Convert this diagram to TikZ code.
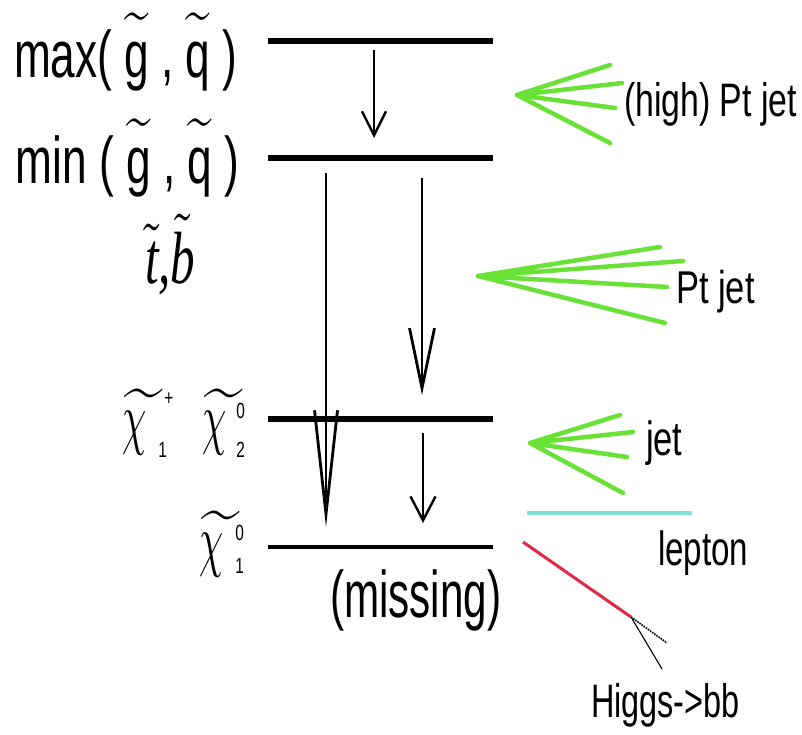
\documentclass[tikz,border=0pt]{standalone}
\usepackage{fontspec}
\setmainfont{Liberation Sans}
\newfontfamily\serifit{Liberation Serif}
\usepackage{graphicx}
\usetikzlibrary{arrows.meta}
\definecolor{jetgreen}{RGB}{105,225,55}
\definecolor{lepcyan}{RGB}{125,225,220}
\definecolor{higgsred}{RGB}{225,40,70}
\newcommand{\sqz}[2]{\scalebox{#1}[1]{#2}}
\newcommand{\sqzz}[3]{\scalebox{#1}[#2]{\fontsize{10}{12}\selectfont #3}}
\newcommand{\scr}[1]{{\fontsize{22}{24}\selectfont\sqz{0.7}{#1}}}
\newcommand{\chibig}{\sqzz{3.85}{7}{$\widetilde{\chi\mkern9mu}$}}
\tikzset{
  level/.style={line width=6pt},
  lowlevel/.style={line width=4pt},
  jet/.style={jetgreen, line width=4.5pt, line cap=round},
  lbl/.style={anchor=base west, inner sep=0pt, outer sep=0pt},
  decay/.style={line width=2pt},
}
\begin{document}
\begin{tikzpicture}[x=1pt,y=-1pt]
\fill[white] (0,0) rectangle (802,735);
\useasboundingbox (0,0) rectangle (802,735);
% level lines
\coordinate (L1a) at (268,41);  \coordinate (L1b) at (493,41);
\coordinate (L2a) at (268,158); \coordinate (L2b) at (493,158);
\coordinate (L3a) at (268,419); \coordinate (L3b) at (493,419);
\coordinate (L4a) at (268,547); \coordinate (L4b) at (493,547);
\draw[level] (L1a) -- (L1b);
\draw[level] (L2a) -- (L2b);
\draw[level] (L3a) -- (L3b);
\draw[lowlevel] (L4a) -- (L4b);
% decay arrows
\coordinate (A1s) at (374,50);  \coordinate (A1e) at (374,138);
\coordinate (A2s) at (326,173); \coordinate (A2e) at (326,527);
\coordinate (A3s) at (422,178); \coordinate (A3e) at (422,395);
\coordinate (A4s) at (423,433); \coordinate (A4e) at (423,523);
\draw[decay,-{Straight Barb[length=24pt,width=24pt,line width=2.4pt]}] (A1s) -- (A1e);
\draw[decay,-{Straight Barb[length=104pt,width=23pt,line width=2.8pt]}] (A2s) -- (A2e);
\draw[decay,-{Straight Barb[length=60pt,width=25pt,line width=2.8pt]}] (A3s) -- (A3e);
\draw[decay,-{Straight Barb[length=24pt,width=25pt,line width=2.4pt]}] (A4s) -- (A4e);
% left labels
\node[lbl] (maxl) at (14,78)
  {\sqzz{4.42}{6.6}{max( $\widetilde{\mbox{g}\vphantom{h}}$ , $\widetilde{\mbox{q}\vphantom{h}}$ )}};
\node[lbl] (minl) at (16,184)
  {\sqzz{4.42}{6.6}{min ( $\widetilde{\mbox{g}\vphantom{h}}$ , $\widetilde{\mbox{q}\vphantom{h}}$ )}};
\node[lbl] (tbl) at (145,283)
  {\sqzz{4.9}{7.4}{\serifit\itshape $\tilde{\mbox{t}}$,$\tilde{\mbox{b}}$}};
\node[lbl] (chiA) at (122,441)
  {\chibig\kern-7pt\rlap{\kern6pt\raisebox{36pt}{\scr{+}}}\raisebox{-16pt}{\scr{1}}};
\node[lbl] (chiB) at (202,441)
  {\chibig\kern-9pt\rlap{\raisebox{23pt}{\scr{0}}}\raisebox{-16pt}{\scr{2}}};
\node[lbl] (chiC) at (199,563)
  {\chibig\kern-7pt\rlap{\raisebox{23pt}{\scr{0}}}\raisebox{-10pt}{\scr{1}}};
\node[lbl,font=\fontsize{66}{70}\selectfont] (miss) at (330,617) {\sqz{0.64}{(missing)}};
% jets
\coordinate (J1) at (517,95);
\coordinate (J1a) at (610,65); \coordinate (J1b) at (622,83);
\coordinate (J1c) at (615,108); \coordinate (J1d) at (610,143);
\draw[jet] (J1) -- (J1a) (J1) -- (J1b) (J1) -- (J1c) (J1) -- (J1d);
\coordinate (J2) at (478,276);
\coordinate (J2a) at (660,247); \coordinate (J2b) at (683,261);
\coordinate (J2c) at (667,287); \coordinate (J2d) at (665,323);
\draw[jet] (J2) -- (J2a) (J2) -- (J2b) (J2) -- (J2c) (J2) -- (J2d);
\coordinate (J3) at (530,443);
\coordinate (J3a) at (620,415); \coordinate (J3b) at (633,432);
\coordinate (J3c) at (627,457); \coordinate (J3d) at (623,493);
\draw[jet] (J3) -- (J3a) (J3) -- (J3b) (J3) -- (J3c) (J3) -- (J3d);
% lepton
\coordinate (Ls) at (527,513); \coordinate (Le) at (692,513);
\draw[lepcyan, line width=4pt] (Ls) -- (Le);
% higgs
\coordinate (H0) at (523,542); \coordinate (H1) at (631,617);
\coordinate (H2) at (667,643); \coordinate (H3) at (662,669);
\draw[higgsred, line width=3pt] (H0) -- (H1);
\draw[densely dotted, line width=1.6pt] (H1) -- (H2);
\draw[line width=1.1pt] (H1) -- (H3);
% right labels
\node[lbl,font=\fontsize{47}{50}\selectfont] (t1) at (624,117) {\sqz{0.72}{(high) Pt jet}};
\node[lbl,font=\fontsize{46}{50}\selectfont] (t2) at (676,303) {\sqz{0.75}{Pt jet}};
\node[lbl,font=\fontsize{48}{50}\selectfont] (t3) at (646,455) {\sqz{0.72}{jet}};
\node[lbl,font=\fontsize{48}{50}\selectfont] (t4) at (658,565) {\sqz{0.69}{lepton}};
\node[lbl,font=\fontsize{47}{50}\selectfont] (t5) at (591,717) {\sqz{0.69}{Higgs->bb}};
\end{tikzpicture}
\end{document}
